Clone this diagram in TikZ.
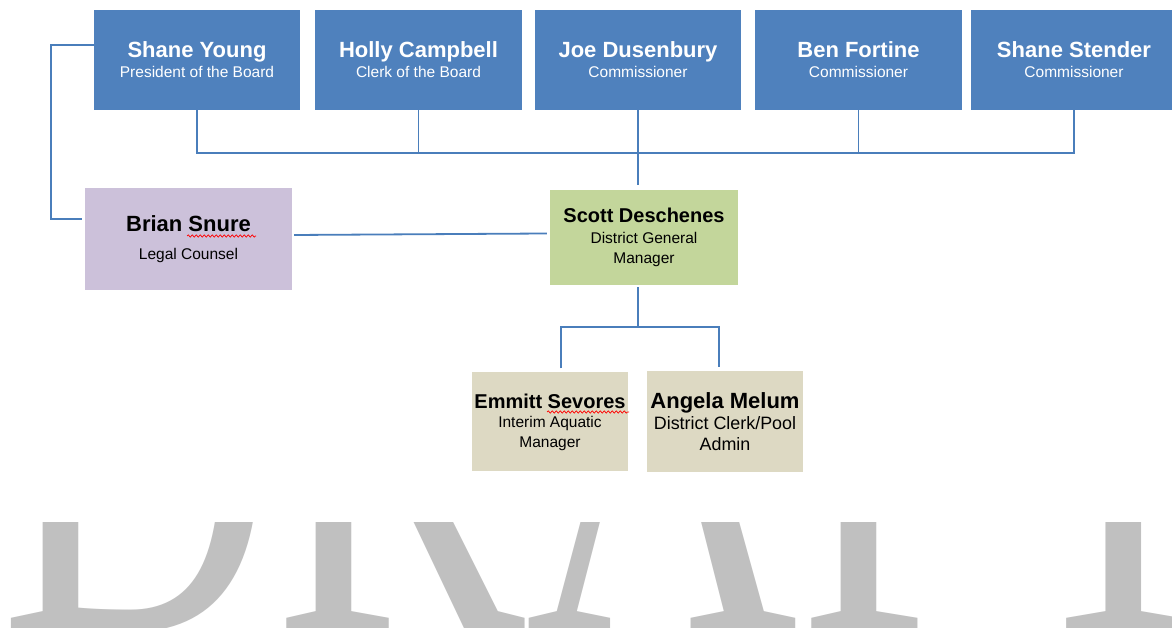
\documentclass[tikz,border=0pt]{standalone}
\usepackage{fontspec}
\setmainfont{Liberation Sans}
\newfontfamily\wmfont{Liberation Serif}
\usepackage{tikz}
\usetikzlibrary{calc,decorations.pathmorphing}
\definecolor{boardblue}{HTML}{4F81BD}
\definecolor{linkblue}{HTML}{4A7EBB}
\definecolor{lilac}{HTML}{CCC1DA}
\definecolor{sage}{HTML}{C3D69B}
\definecolor{sand}{HTML}{DDD9C3}
\definecolor{wmgray}{HTML}{C0C0C0}
\tikzset{
  board/.style={fill=boardblue,text=white,minimum width=206pt,minimum height=100pt,align=center,inner sep=0pt,font=\fontsize{15.5}{20}\selectfont},
  staff/.style={minimum width=156pt,minimum height=100pt,align=center,inner sep=0pt,font=\fontsize{15.5}{19.5}\selectfont},
  link/.style={draw=linkblue,line width=1.8pt},
  typo/.style={draw=red,line width=0.7pt,decorate,decoration={snake,amplitude=1.1pt,segment length=4pt}}
}
\newcommand{\who}[2][22]{{\fontsize{#1}{24}\selectfont\bfseries #2}}

\begin{document}
\begin{tikzpicture}[x=1pt,y=1pt]
\useasboundingbox (0,0) rectangle (1172,628);
\fill[white] (0,0) rectangle (1172,628);
% watermark, cut off at the top
\begin{scope}
\clip (0,0) rectangle (1172,105);
\node[anchor=base west,inner sep=0pt,text=wmgray,yscale=1.35,transform shape,font=\wmfont\fontsize{378}{378}\selectfont] (wm) at (0,-4) {DRAFT};
\end{scope}
% board
\node[board] (sy) at (197,568) {\who{Shane Young}\\President of the Board};
\node[board,minimum width=207pt] (hc) at (418.5,568) {\who{Holly Campbell}\\Clerk of the Board};
\node[board] (jd) at (638,568) {\who{Joe Dusenbury}\\Commissioner};
\node[board,minimum width=207pt] (bf) at (858.5,568) {\who{Ben Fortine}\\Commissioner};
\node[board] (ss) at (1074,568) {\who{Shane Stender}\\Commissioner};
% staff
\node[staff,fill=lilac,minimum width=207pt,minimum height=102pt] (bs) at (188.5,389) {\who{Brian Snure}\\[9pt]Legal Counsel};
\node[staff,fill=sage,minimum width=188pt,minimum height=95pt,font=\fontsize{15.5}{20.5}\selectfont] (sd) at (644,390.5) {\who[20]{Scott Deschenes}\\District General\\Manager};
\node[staff,fill=sand,minimum height=99pt] (es) at (550,206) {\who[20]{Emmitt Sevores}\\Interim Aquatic\\Manager};
\node[staff,fill=sand,minimum height=101pt,font=\fontsize{17.9}{21}\selectfont] (am) at (725,206) {\who{Angela Melum}\\District Clerk/Pool\\Admin};
% spell-check marks
\draw[typo] (187,392) -- (256,392);
\draw[typo] (547,216) -- (629,216);
% links
\coordinate (bus) at (0,475);
\draw[link] (sy.south) -- (sy.south |- bus) -- (ss.south |- bus) -- (ss.south);
\draw[link] (hc.south) -- (hc.south |- bus);
\draw[link] (bf.south) -- (bf.south |- bus);
\draw[link] (jd.south) -- ([yshift=5pt]jd.south |- sd.north);
\draw[link] ([yshift=15pt]sy.west) -- ++(-43,0) |- ([xshift=-3pt,yshift=20pt]bs.west);
\draw[link] ([xshift=2pt,yshift=4pt]bs.east) -- ([xshift=-3pt,yshift=4pt]sd.west);
\coordinate (fl) at (561,301);
\coordinate (fr) at (719,301);
\draw[link] ([xshift=-6pt,yshift=-2pt]sd.south) -- ([xshift=-6pt]sd.south |- fl);
\draw[link] ([yshift=4pt]es.north -| fl) -- (fl) -- (fr) -- ([yshift=4pt]am.north -| fr);
\end{tikzpicture}
\end{document}
